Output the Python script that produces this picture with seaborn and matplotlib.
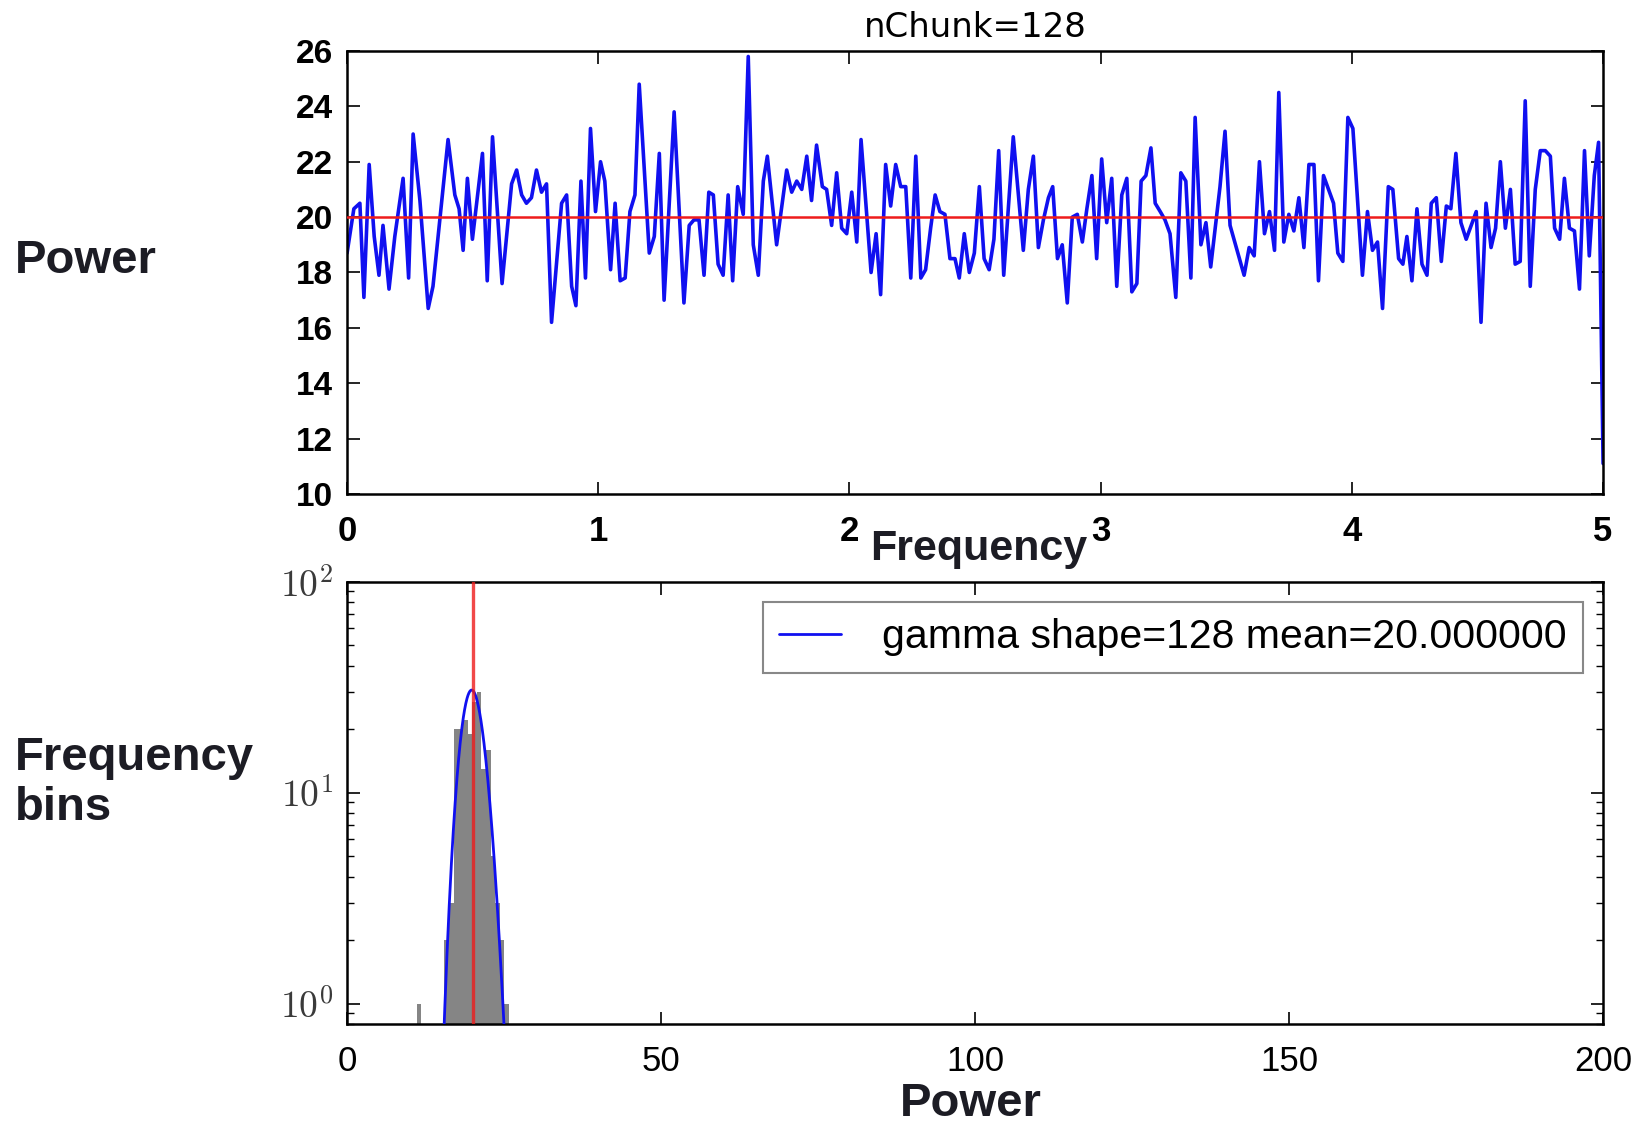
import math
import numpy as np
import pandas as pd
import matplotlib
matplotlib.use("Agg")
import matplotlib.pyplot as plt
from matplotlib import font_manager
from matplotlib.ticker import LogLocator, NullFormatter
import seaborn as sns

# ---------------- data ----------------
freq = [0.000, 0.027, 0.051, 0.067, 0.088, 0.108, 0.127, 0.143, 0.167, 0.190,
        0.223, 0.245, 0.263, 0.290, 0.323, 0.342, 0.402, 0.429, 0.446, 0.462,
        0.479, 0.499, 0.539, 0.558, 0.579, 0.617, 0.655, 0.675, 0.695, 0.714,
        0.734, 0.754, 0.774, 0.794, 0.814, 0.854, 0.874, 0.894, 0.911, 0.931,
        0.949, 0.969, 0.989, 1.009, 1.026, 1.049, 1.067, 1.087, 1.107, 1.126,
        1.146, 1.163, 1.203, 1.223, 1.243, 1.262, 1.302, 1.341, 1.362, 1.381,
        1.401, 1.421, 1.440, 1.458, 1.477, 1.497, 1.517, 1.535, 1.555, 1.577,
        1.597, 1.617, 1.637, 1.657, 1.673, 1.710, 1.750, 1.770, 1.790, 1.810,
        1.830, 1.849, 1.869, 1.892, 1.909, 1.929, 1.949, 1.969, 1.989, 2.009,
        2.029, 2.046, 2.086, 2.106, 2.124, 2.144, 2.164, 2.184, 2.204, 2.224,
        2.244, 2.264, 2.284, 2.303, 2.323, 2.341, 2.360, 2.380, 2.400, 2.420,
        2.437, 2.457, 2.477, 2.497, 2.517, 2.536, 2.556, 2.575, 2.594, 2.614,
        2.652, 2.692, 2.712, 2.732, 2.752, 2.772, 2.792, 2.809, 2.828, 2.847,
        2.867, 2.887, 2.907, 2.927, 2.945, 2.965, 2.984, 3.004, 3.024, 3.044,
        3.064, 3.084, 3.104, 3.124, 3.144, 3.161, 3.180, 3.200, 3.217, 3.237,
        3.256, 3.276, 3.299, 3.319, 3.339, 3.359, 3.376, 3.399, 3.419, 3.438,
        3.475, 3.495, 3.515, 3.571, 3.591, 3.611, 3.632, 3.652, 3.672, 3.692,
        3.709, 3.729, 3.749, 3.769, 3.789, 3.809, 3.829, 3.849, 3.867, 3.887,
        3.927, 3.944, 3.964, 3.984, 4.004, 4.042, 4.062, 4.082, 4.102, 4.122,
        4.145, 4.163, 4.186, 4.203, 4.219, 4.239, 4.259, 4.279, 4.299, 4.316,
        4.336, 4.356, 4.376, 4.394, 4.414, 4.434, 4.455, 4.475, 4.495, 4.514,
        4.534, 4.554, 4.572, 4.591, 4.611, 4.631, 4.650, 4.670, 4.690, 4.710,
        4.730, 4.750, 4.770, 4.790, 4.807, 4.827, 4.846, 4.866, 4.886, 4.906,
        4.926, 4.945, 4.965, 4.982, 5.000]

power = [18.7, 20.3, 20.5, 17.1, 21.9, 19.3, 17.9, 19.7, 17.4, 19.3,
         21.4, 17.8, 23.0, 20.6, 16.7, 17.5, 22.8, 20.8, 20.3, 18.8,
         21.4, 19.2, 22.3, 17.7, 22.9, 17.6, 21.2, 21.7, 20.8, 20.5,
         20.7, 21.7, 20.9, 21.2, 16.2, 20.5, 20.8, 17.5, 16.8, 21.3,
         17.8, 23.2, 20.2, 22.0, 21.3, 18.1, 20.5, 17.7, 17.8, 20.2,
         20.8, 24.8, 18.7, 19.3, 22.3, 17.0, 23.8, 16.9, 19.7, 19.9,
         19.9, 17.9, 20.9, 20.8, 18.3, 17.9, 20.8, 17.7, 21.1, 20.1,
         25.8, 19.0, 17.9, 21.3, 22.2, 19.0, 21.7, 20.9, 21.3, 21.0,
         22.2, 20.6, 22.6, 21.1, 21.0, 19.7, 21.6, 19.6, 19.4, 20.9,
         19.1, 22.8, 18.0, 19.4, 17.2, 21.9, 20.4, 21.9, 21.1, 21.1,
         17.8, 22.2, 17.8, 18.1, 19.6, 20.8, 20.2, 20.1, 18.5, 18.5,
         17.8, 19.4, 18.0, 18.7, 21.1, 18.5, 18.1, 19.2, 22.4, 17.9,
         22.9, 18.8, 21.0, 22.2, 18.9, 19.9, 20.7, 21.1, 18.5, 19.0,
         16.9, 20.0, 20.1, 19.1, 20.3, 21.5, 18.5, 22.1, 19.8, 21.4,
         17.5, 20.8, 21.4, 17.3, 17.6, 21.3, 21.5, 22.5, 20.5, 20.2,
         19.9, 19.4, 17.1, 21.6, 21.3, 17.8, 23.6, 19.0, 19.8, 18.2,
         21.1, 23.1, 19.7, 17.9, 18.9, 18.6, 22.0, 19.4, 20.2, 18.8,
         24.5, 19.1, 20.1, 19.5, 20.7, 18.9, 21.9, 21.9, 17.7, 21.5,
         20.5, 18.7, 18.4, 23.6, 23.2, 17.9, 20.2, 18.8, 19.1, 16.7,
         21.1, 21.0, 18.5, 18.3, 19.3, 17.7, 20.3, 18.3, 17.9, 20.5,
         20.7, 18.4, 20.4, 20.3, 22.3, 19.8, 19.2, 19.7, 20.2, 16.2,
         20.5, 18.9, 19.6, 22.0, 19.6, 21.0, 18.3, 18.4, 24.2, 17.5,
         21.0, 22.4, 22.4, 22.2, 19.6, 19.2, 21.4, 19.6, 19.5, 17.4,
         22.4, 18.6, 21.5, 22.7, 11.1]

mean_power = 20.0
gamma_shape = 128
n_chunk = 128

# histogram: 20 equal bins between min and max power, counts
hist_counts = [1, 0, 0, 0, 0, 0, 2, 3, 20, 20, 22, 19, 27, 30, 13, 16, 5, 3, 2, 1]

freq_ticks = [0, 1, 2, 3, 4, 5]
power_ticks = [10, 12, 14, 16, 18, 20, 22, 24, 26]
hist_xticks = [0, 50, 100, 150, 200]
hist_yticks = [1, 10, 100]
hist_ytick_labels = [r"$10^{0}$", r"$10^{1}$", r"$10^{2}$"]

# ---------------- style ----------------
sns.set_theme(style="ticks")
plt.rcParams["font.family"] = ["Liberation Sans", "DejaVu Sans"]
plt.rcParams["mathtext.fontset"] = "cm"
plt.rcParams["text.color"] = "black"
plt.rcParams["axes.labelcolor"] = "black"
plt.rcParams["xtick.color"] = "black"
plt.rcParams["ytick.color"] = "black"

names = {f.name for f in font_manager.fontManager.ttflist}
narrow = "Liberation Sans Narrow" if "Liberation Sans Narrow" in names else "Liberation Sans"

BLUE = "#1010f0"
RED = "#ee1c1c"

fig = plt.figure(figsize=(16.41, 11.25), dpi=100)
ax1 = fig.add_axes([0.2115, 0.5609, 0.7654, 0.3938])
ax2 = fig.add_axes([0.2115, 0.0898, 0.7654, 0.3932])

# ---------------- top panel ----------------
df = pd.DataFrame({"Frequency": freq, "Power": power})
sns.lineplot(data=df, x="Frequency", y="Power", ax=ax1, color=BLUE,
             linewidth=2.6, estimator=None, sort=False)
ax1.axhline(mean_power, color=RED, linewidth=1.8, zorder=5)
ax1.set_xlim(0, 5)
ax1.set_ylim(10, 26)
ax1.set_xlabel("")
ax1.set_ylabel("")
ax1.set_yticks(power_ticks, labels=[str(t) for t in power_ticks],
               fontsize=24, fontweight="bold", color="black")
ax1.set_xticks(freq_ticks, labels=[str(t) for t in freq_ticks],
               fontsize=25, fontweight="bold", family=narrow, color="black")
ax1.tick_params(direction="in", length=9, width=1.2, top=True, right=True,
                colors="black")
ax1.tick_params(axis="x", pad=15)
ax1.tick_params(axis="y", pad=10)
ax1.set_title(f"nChunk={n_chunk}", fontsize=24.5, family="DejaVu Sans",
              pad=10, color="black")

# ---------------- bottom panel ----------------
edges = np.linspace(min(power), max(power), len(hist_counts) + 1)
centers = (edges[:-1] + edges[1:]) / 2
hdf = pd.DataFrame({"center": centers, "count": hist_counts})
sns.histplot(data=hdf, x="center", weights="count", bins=edges.tolist(), ax=ax2,
             color="#858585", alpha=1.0, linewidth=0, zorder=2)

theta = mean_power / gamma_shape
binw = edges[1] - edges[0]
xs = np.linspace(0.5, 200, 4000)
logpdf = ((gamma_shape - 1) * np.log(xs) - xs / theta
          - math.lgamma(gamma_shape) - gamma_shape * math.log(theta))
ys = sum(hist_counts) * binw * np.exp(logpdf)
sns.lineplot(x=xs, y=ys, ax=ax2, color=BLUE, linewidth=2.0, zorder=4,
             label=f"gamma shape={gamma_shape} mean={mean_power:f}")
ax2.axvline(mean_power, color=RED, alpha=0.8, linewidth=2.4, zorder=5)

ax2.set_yscale("log")
ax2.set_xlim(0, 200)
ax2.set_ylim(0.8, 100)
ax2.set_xlabel("")
ax2.set_ylabel("")
ax2.set_yticks(hist_yticks, labels=hist_ytick_labels, fontsize=27)
ax2.yaxis.set_minor_locator(LogLocator(base=10, subs=np.arange(2, 10)))
ax2.yaxis.set_minor_formatter(NullFormatter())
ax2.set_xticks(hist_xticks, labels=[str(t) for t in hist_xticks], fontsize=25,
               color="black")
ax2.tick_params(which="major", direction="in", length=9, width=1.2,
                top=True, right=True, colors="black")
ax2.tick_params(which="minor", direction="in", length=5, width=1.0,
                top=False, right=True, colors="black")
ax2.tick_params(axis="x", pad=15)
ax2.tick_params(axis="y", pad=10)
for lab in ax2.get_yticklabels():
    lab.set_color("#3a3a3a")

leg = ax2.legend(loc="upper right", fontsize=29.5, frameon=True, fancybox=False,
                 edgecolor="#888888", handlelength=1.5, handletextpad=1.0,
                 borderpad=0.4, borderaxespad=0.5, labelcolor="black")
leg.get_frame().set_linewidth(1.5)
leg.get_frame().set_alpha(1)

for ax in (ax1, ax2):
    for s in ax.spines.values():
        s.set_color("black")
        s.set_linewidth(1.8)
        s.set_visible(True)

# ---------------- outer labels ----------------
lab_col = "#1c1c24"
fig.text(15 / 1641, 1 - 261 / 1125, "Power", fontsize=34, fontweight="bold",
         ha="left", va="center", color=lab_col)
fig.text(15 / 1641, 1 - 783 / 1125, "Frequency\nbins", fontsize=34,
         fontweight="bold", ha="left", va="center", color=lab_col,
         linespacing=1.15)
fig.text(979 / 1641, 1 - 549 / 1125, "Frequency", fontsize=31,
         fontweight="bold", family=narrow, ha="center", va="center", color=lab_col)
fig.text(971 / 1641, 1 - 1104 / 1125, "Power", fontsize=34, fontweight="bold",
         ha="center", va="center", color=lab_col)

fig.savefig("out.png", dpi=100)
